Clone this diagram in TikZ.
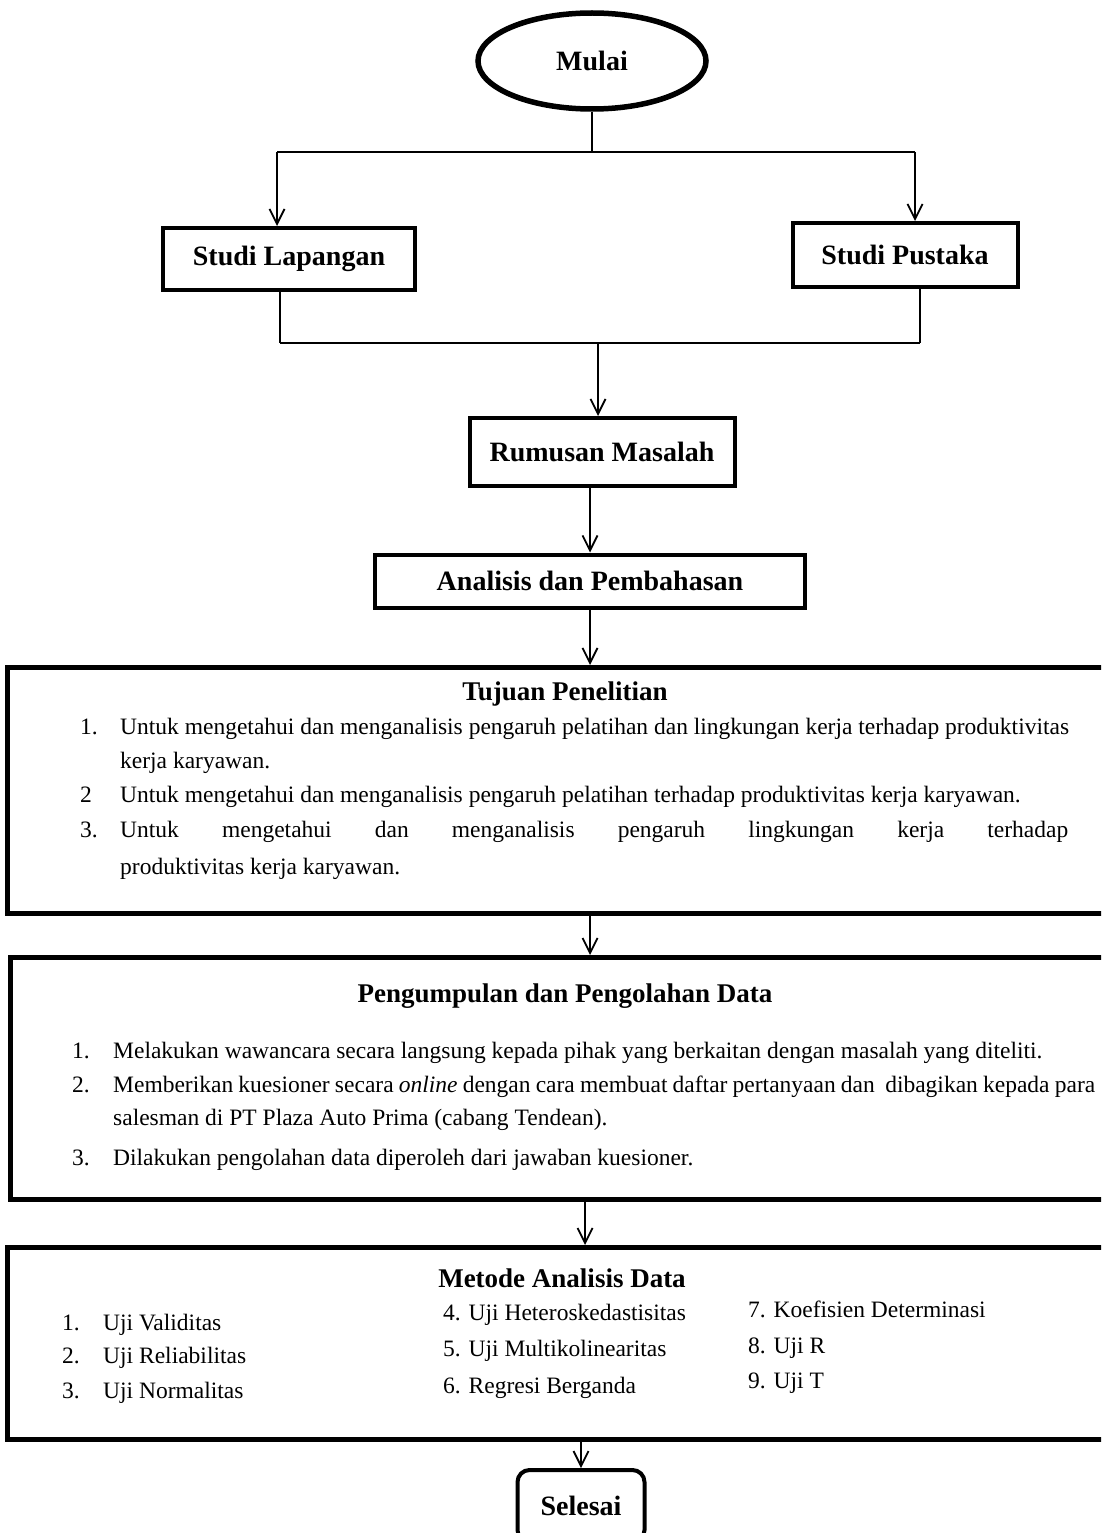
\documentclass[tikz,border=0pt]{standalone}
\usepackage{fontspec}
\setmainfont{Liberation Serif}
\usetikzlibrary{shapes.geometric,arrows.meta,calc}
\tikzset{
  flowbox/.style={draw, line width=4pt, inner sep=0pt, font=\bfseries\fontsize{28}{32}\selectfont},
  bigbox/.style={draw, line width=5pt, inner sep=0pt, anchor=north west},
  conn/.style={line width=1.8pt},
  arr/.style={conn, -{Straight Barb[length=15pt,width=15pt,line width=1.8pt]}},
  body/.style={anchor=base west, inner sep=0pt, font=\fontsize{23.5}{28}\selectfont},
  ttl/.style={anchor=base, inner sep=0pt, font=\bfseries\fontsize{27}{30}\selectfont}
}
\begin{document}
\begin{tikzpicture}[x=1pt,y=-1pt]
\useasboundingbox (0,0) rectangle (1101,1533);
\fill[white] (0,0) rectangle (1101,1533);
\clip (0,0) rectangle (1101,1533);

% start
\node[flowbox, ellipse, line width=5.5pt, minimum width=228pt, minimum height=96pt] (mulai) at (592,61) {Mulai};

% split
\coordinate (sL) at (277,152);
\coordinate (sR) at (915,152);
\node[flowbox, minimum width=252pt, minimum height=62pt] (lap) at (289,259) {Studi Lapangan};
\node[flowbox, minimum width=225pt, minimum height=64pt] (pus) at (905,255) {Studi Pustaka};
\draw[conn] (mulai.south) -- (mulai.south |- sL);
\draw[conn, line width=2.6pt] (sL) -- (sR);
\draw[arr] (sL) -- (sL |- lap.north);
\draw[arr] (sR) -- (sR |- pus.north);

% merge
\coordinate (mL) at (280,343);
\coordinate (mR) at (920,343);
\coordinate (mC) at (598,343);
\draw[conn] (lap.south -| mL) -- (mL);
\draw[conn] (pus.south -| mR) -- (mR);
\draw[conn, line width=2.6pt] (mL) -- (mR);

\node[flowbox, minimum width=265pt, minimum height=68pt] (rum) at (602,452) {Rumusan Masalah};
\draw[arr] (mC) -- (mC |- rum.north);

\node[flowbox, minimum width=430pt, minimum height=53pt] (ana) at (590,581) {Analisis dan Pembahasan};
\draw[arr] (ana.north |- rum.south) -- (ana.north);

% Tujuan Penelitian
\node[bigbox, minimum width=1112pt, minimum height=246pt] (tuj) at (5,665) {};
\draw[arr] (ana.south) -- (ana.south |- tuj.north);
\node[ttl] (tujT) at (565,700) {Tujuan Penelitian};
\node[body] (t1n) at (80,734) {1.};
\node[body] (t1a) at (120,734) {Untuk mengetahui dan menganalisis pengaruh pelatihan dan lingkungan kerja terhadap produktivitas};
\node[body] (t1b) at (120,768) {kerja karyawan.};
\node[body] (t2n) at (80,802) {2};
\node[body] (t2a) at (120,802) {Untuk mengetahui dan menganalisis pengaruh pelatihan terhadap produktivitas kerja karyawan.};
\node[body] (t3n) at (80,837) {3.};
\node[body] (t3a) at (120,837) {\makebox[948pt][s]{Untuk mengetahui dan menganalisis pengaruh lingkungan kerja terhadap}};
\node[body] (t3b) at (120,874) {produktivitas kerja karyawan.};

% Pengumpulan dan Pengolahan Data
\node[bigbox, minimum width=1110pt, minimum height=242pt] (pen) at (8,955) {};
\draw[arr] (tuj.south -| 590,0) -- (pen.north -| 590,0);
\node[ttl] (penT) at (565,1002) {Pengumpulan dan Pengolahan Data};
\node[body] (p1n) at (72,1058) {1.};
\node[body] (p1a) at (113,1058) {Melakukan wawancara secara langsung kepada pihak yang berkaitan dengan masalah yang diteliti.};
\node[body] (p2n) at (72,1092) {2.};
\node[body] (p2a) at (113,1092) {\makebox[982pt][s]{Memberikan kuesioner secara \textit{online} dengan cara membuat daftar pertanyaan dan\ \ dibagikan kepada para}};
\node[body] (p2b) at (113,1125) {salesman di PT Plaza Auto Prima (cabang Tendean).};
\node[body] (p3n) at (72,1165) {3.};
\node[body] (p3a) at (113,1165) {Dilakukan pengolahan data diperoleh dari jawaban kuesioner.};

% Metode Analisis Data
\node[bigbox, minimum width=1112pt, minimum height=192pt] (met) at (5,1245) {};
\draw[arr] (pen.south -| 585,0) -- (met.north -| 585,0);
\node[ttl] (metT) at (562,1287) {Metode Analisis Data};
\node[body] (m1n) at (62,1330) {1.};
\node[body] (m1a) at (103,1330) {Uji Validitas};
\node[body] (m2n) at (62,1363) {2.};
\node[body] (m2a) at (103,1363) {Uji Reliabilitas};
\node[body] (m3n) at (62,1398) {3.};
\node[body] (m3a) at (103,1398) {Uji Normalitas};
\node[body] (m4) at (443,1320) {4. Uji Heteroskedastisitas};
\node[body] (m5) at (443,1356) {5. Uji Multikolinearitas};
\node[body] (m6) at (443,1393) {6. Regresi Berganda};
\node[body] (m7) at (748,1317) {7. Koefisien Determinasi};
\node[body] (m8) at (748,1353) {8. Uji R};
\node[body] (m9) at (748,1388) {9. Uji T};

% end
\node[flowbox, rounded corners=12pt, minimum width=127pt, minimum height=72pt] (sel) at (581,1506) {Selesai};
\draw[arr] (met.south -| sel.north) -- (sel.north);
\end{tikzpicture}
\end{document}
